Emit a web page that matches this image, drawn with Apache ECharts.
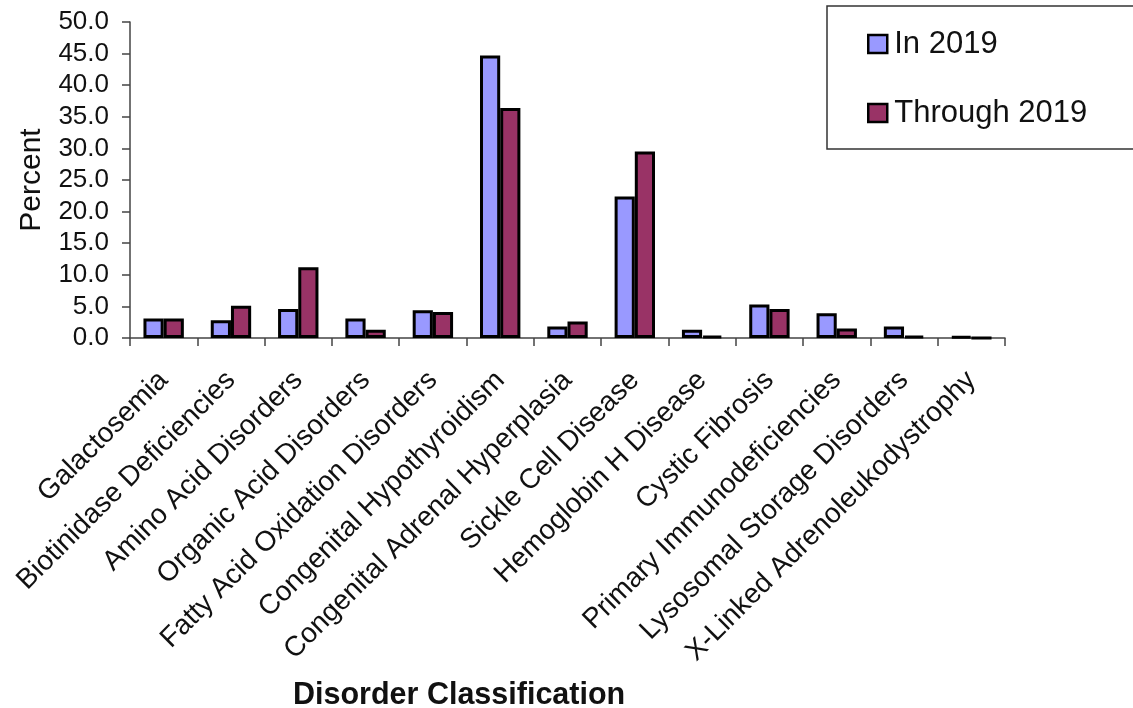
<!DOCTYPE html>
<html>
<head>
<meta charset="utf-8">
<script src="https://cdn.jsdelivr.net/npm/echarts@6/dist/echarts.min.js"></script>
<style>
html,body{margin:0;padding:0;background:#fff;}
#chart{width:1133px;height:708px;}
</style>
</head>
<body>
<div id="chart"></div>
<script>
var categories = ["Galactosemia","Biotinidase Deficiencies","Amino Acid Disorders","Organic Acid Disorders","Fatty Acid Oxidation Disorders","Congenital Hypothyroidism","Congenital Adrenal Hyperplasia","Sickle Cell Disease","Hemoglobin H Disease","Cystic Fibrosis","Primary Immunodeficiencies","Lysosomal Storage Disorders","X-Linked Adrenoleukodystrophy"];
var in2019 = [3.1, 2.8, 4.6, 3.1, 4.4, 44.7, 1.8, 22.4, 1.3, 5.3, 3.9, 1.8, 0.2];
var through2019 = [3.1, 5.1, 11.2, 1.3, 4.1, 36.4, 2.6, 29.5, 0.3, 4.6, 1.5, 0.3, 0];
var seriesNames = ["In 2019", "Through 2019"];
var yTicks = {min: 0, max: 50, interval: 5};

var FONT = '"Liberation Sans", Arial, sans-serif';
var chart = echarts.init(document.getElementById('chart'), null, {renderer: 'canvas'});
var option = {
  backgroundColor: '#ffffff',
  animation: false,
  title: {
    text: 'Disorder Classification',
    left: 293, top: 680,
    padding: 0,
    textStyle: {fontFamily: FONT, fontSize: 30.5, fontWeight: 'bold', color: '#111'}
  },
  legend: {
    orient: 'vertical',
    left: 827, top: 6,
    padding: [22, 80, 20, 40],
    itemWidth: 19, itemHeight: 18,
    itemGap: 37,
    icon: 'rect',
    borderColor: '#333', borderWidth: 1.5,
    itemStyle: {borderColor: '#000', borderWidth: 2.5},
    textStyle: {fontFamily: FONT, fontSize: 31, color: '#111', lineHeight: 32, padding: [0,0,0,2]},
    data: seriesNames
  },
  grid: {left: 130, right: 128, top: 22, bottom: 370, containLabel: false, outerBoundsMode: 'none'},
  xAxis: {
    type: 'category',
    data: categories,
    axisLine: {lineStyle: {color: '#444', width: 1.5}},
    axisTick: {show: true, interval: 0, alignWithLabel: false, length: 8, lineStyle: {color: '#444', width: 1.5}},
    axisLabel: {interval: 0, rotate: 45, fontFamily: FONT, fontSize: 28, color: '#111', margin: 38}
  },
  yAxis: {
    type: 'value',
    min: yTicks.min, max: yTicks.max, interval: yTicks.interval,
    name: 'Percent',
    nameLocation: 'middle',
    nameGap: 83,
    nameTextStyle: {fontFamily: FONT, fontSize: 30, color: '#111'},
    axisLine: {show: true, lineStyle: {color: '#444', width: 1.5}},
    axisTick: {show: true, length: 8, lineStyle: {color: '#444', width: 1.5}},
    splitLine: {show: false},
    axisLabel: {fontFamily: FONT, fontSize: 26, color: '#111', margin: 21,
      formatter: function (v) { return v.toFixed(1); }}
  },
  series: [
    {name: seriesNames[0], type: 'bar', data: in2019, barGap: '0%', barCategoryGap: '40%',
     itemStyle: {color: '#9999FF', borderColor: '#000', borderWidth: 3}},
    {name: seriesNames[1], type: 'bar', data: through2019, barGap: '0%', barCategoryGap: '40%',
     itemStyle: {color: '#993366', borderColor: '#000', borderWidth: 3}}
  ]
};
chart.setOption(option);
</script>
</body>
</html>
